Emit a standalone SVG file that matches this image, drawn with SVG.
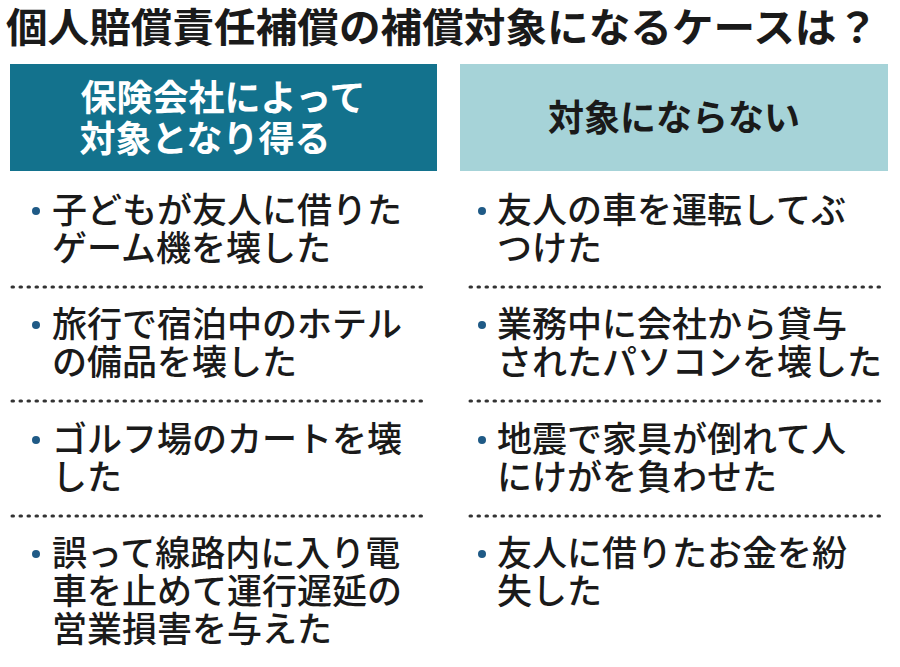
<svg xmlns="http://www.w3.org/2000/svg" width="900" height="667" viewBox="0 0 900 667">
<style>
text{font-family:"Noto Sans CJK JP","Noto Sans CJK SC",sans-serif;fill:#1a1a1a}
.t{font-size:35px;font-weight:500}
.h{font-size:36px;font-weight:700}
.b{fill:#1f5a86}
.d{stroke:#333;stroke-width:3;stroke-dasharray:1.5 6.5;stroke-linecap:round;fill:none}
</style>
<rect width="900" height="667" fill="#fff"/>
<text x="6" y="42" style="font-size:40px;font-weight:700" textLength="872" lengthAdjust="spacingAndGlyphs">個人賠償責任補償の補償対象になるケースは？</text>
<g id="hdrL"><rect x="10" y="64" width="427" height="107" fill="#13728d"/>
<text class="h" x="223" y="111" text-anchor="middle" style="fill:#fff">保険会社によって</text>
<text class="h" x="205" y="152" text-anchor="middle" style="fill:#fff">対象となり得る</text></g>
<g id="hdrR"><rect x="460" y="64" width="428" height="107" fill="#a6d3d8"/>
<text class="h" x="674" y="131" text-anchor="middle">対象にならない</text></g>
<g id="connectors">
<line class="d" x1="12" y1="287" x2="422" y2="287"/><line class="d" x1="470" y1="287" x2="882" y2="287"/>
<line class="d" x1="12" y1="401" x2="422" y2="401"/><line class="d" x1="470" y1="401" x2="882" y2="401"/>
<line class="d" x1="12" y1="516" x2="422" y2="516"/><line class="d" x1="470" y1="516" x2="882" y2="516"/>
</g>
<g id="L1"><circle class="b" cx="36" cy="211" r="4"/><text class="t" x="52" y="223">子どもが友人に借りた</text><text class="t" x="52" y="261">ゲーム機を壊した</text></g>
<g id="L2"><circle class="b" cx="36" cy="325" r="4"/><text class="t" x="52" y="337">旅行で宿泊中のホテル</text><text class="t" x="52" y="375">の備品を壊した</text></g>
<g id="L3"><circle class="b" cx="36" cy="440" r="4"/><text class="t" x="52" y="452">ゴルフ場のカートを壊</text><text class="t" x="52" y="490">した</text></g>
<g id="L4"><circle class="b" cx="36" cy="554" r="4"/><text class="t" x="52" y="566">誤って線路内に入り電</text><text class="t" x="52" y="604">車を止めて運行遅延の</text><text class="t" x="52" y="642">営業損害を与えた</text></g>
<g id="R1"><circle class="b" cx="482" cy="211" r="4"/><text class="t" x="497" y="223">友人の車を運転してぶ</text><text class="t" x="497" y="261">つけた</text></g>
<g id="R2"><circle class="b" cx="482" cy="325" r="4"/><text class="t" x="497" y="337">業務中に会社から貸与</text><text class="t" x="497" y="375">されたパソコンを壊した</text></g>
<g id="R3"><circle class="b" cx="482" cy="440" r="4"/><text class="t" x="497" y="452">地震で家具が倒れて人</text><text class="t" x="497" y="490">にけがを負わせた</text></g>
<g id="R4"><circle class="b" cx="482" cy="554" r="4"/><text class="t" x="497" y="566">友人に借りたお金を紛</text><text class="t" x="497" y="604">失した</text></g>
</svg>
